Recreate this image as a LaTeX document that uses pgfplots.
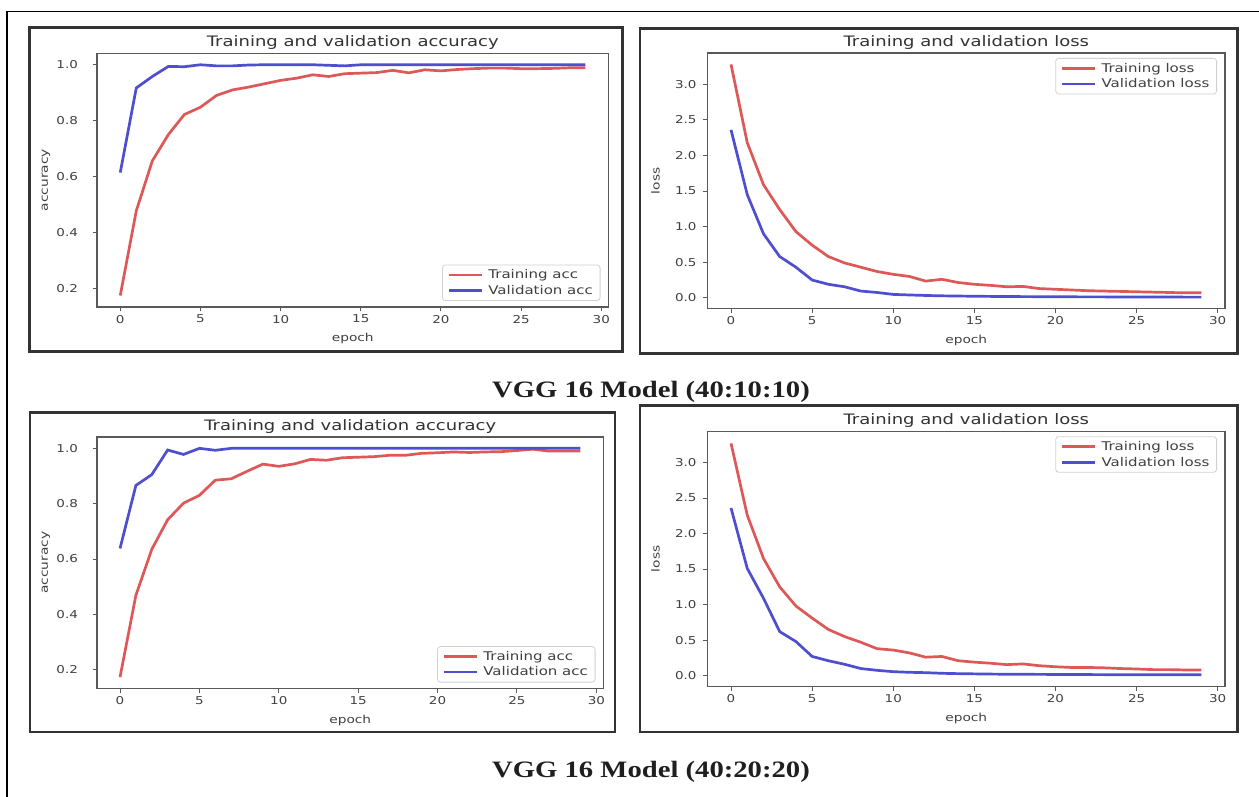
\documentclass[border=0pt]{standalone}
\usepackage{fontspec}
\usepackage{pgfplots}
\pgfplotsset{compat=1.18}
\newfontfamily\mpl[FakeStretch=1.25]{DejaVu Sans}
\newfontfamily\capfont[FakeStretch=1.22]{Liberation Serif}
\definecolor{trainred}{RGB}{222,88,88}
\definecolor{valblue}{RGB}{78,78,208}
\pgfplotsset{
  mplstyle/.style={
    scale only axis, anchor=south west,
    axis line style={black!65, line width=1.1pt},
    tick style={black!65, line width=1pt},
    major tick length=4.5pt, tick align=outside, tick pos=left,
    xmin=-1.45, xmax=30.45, xtick={0,5,10,15,20,25,30},
    /pgf/number format/assume math mode=true,
    tick label style={font=\mpl\fontsize{10.8}{12}\selectfont, text=black!75},
    yticklabel style={/pgf/number format/fixed, /pgf/number format/fixed zerofill, /pgf/number format/precision=1},
    label style={font=\mpl\fontsize{11}{13}\selectfont, text=black!75},
    xlabel style={at={(axis description cs:0.5,0)}, anchor=base, yshift=-35pt},
    title style={font=\mpl\fontsize{14.4}{16}\selectfont, text=black!80, at={(axis description cs:0.5,1)}, anchor=base, yshift=0.5pt},
    legend style={font=\mpl\fontsize{12}{14}\selectfont, text=black!75, draw=black!18, line width=0.8pt, rounded corners=3pt, fill=white, inner xsep=5pt, inner ysep=2.5pt, nodes={inner sep=2.2pt}, row sep=0.5pt, column sep=3pt},
    legend cell align=left,
    legend image code/.code={\draw[#1] (0pt,0pt) -- (33pt,0pt);},
    every axis plot/.append style={line width=2.7pt, no markers},
  },
  accstyle/.style={mplstyle, ytick={0.2,0.4,0.6,0.8,1.0}, xlabel={epoch}, ylabel={accuracy},
    yticklabel shift=11pt,
    title={Training and validation accuracy},
    ylabel style={at={([xshift=-51pt]axis description cs:0,0.5)}, anchor=center},
    legend style={at={(axis description cs:1,0)}, anchor=south east, xshift=-8pt, yshift=6pt}},
  lossstyle/.style={mplstyle, ytick={0,0.5,1.0,1.5,2.0,2.5,3.0}, xlabel={epoch}, ylabel={loss},
    yticklabel shift=3pt,
    ymin=-0.15, ymax=3.44,
    title={Training and validation loss},
    ylabel style={at={([xshift=-52pt]axis description cs:0,0.5)}, anchor=center},
    legend style={at={(axis description cs:1,1)}, anchor=north east, xshift=-8pt, yshift=-5pt}},
}
\pgfplotstableread{
e tr va
0 0.174 0.614
1 0.477 0.917
2 0.656 0.958
3 0.750 0.994
4 0.822 0.993
5 0.848 1.000
6 0.890 0.996
7 0.910 0.996
8 0.920 0.999
9 0.932 1.000
10 0.944 1.000
11 0.952 1.000
12 0.964 1.000
13 0.958 0.998
14 0.968 0.996
15 0.970 1.000
16 0.972 1.000
17 0.980 1.000
18 0.971 1.000
19 0.982 1.000
20 0.978 1.000
21 0.983 1.000
22 0.986 1.000
23 0.988 1.000
24 0.988 1.000
25 0.986 1.000
26 0.986 1.000
27 0.987 1.000
28 0.989 1.000
29 0.989 1.000
}\accA
\pgfplotstableread{
e tr va
0 3.28 2.36
1 2.18 1.45
2 1.59 0.90
3 1.24 0.58
4 0.93 0.43
5 0.74 0.25
6 0.58 0.19
7 0.49 0.155
8 0.43 0.095
9 0.37 0.075
10 0.33 0.048
11 0.30 0.040
12 0.235 0.033
13 0.26 0.028
14 0.215 0.025
15 0.19 0.022
16 0.175 0.020
17 0.155 0.018
18 0.16 0.017
19 0.13 0.016
20 0.12 0.015
21 0.11 0.014
22 0.10 0.013
23 0.095 0.013
24 0.09 0.012
25 0.085 0.012
26 0.08 0.011
27 0.075 0.011
28 0.07 0.010
29 0.07 0.010
}\lossA
\pgfplotstableread{
e tr va
0 0.173 0.638
1 0.469 0.866
2 0.635 0.905
3 0.742 0.994
4 0.802 0.978
5 0.830 1.000
6 0.885 0.993
7 0.890 1.000
8 0.917 1.000
9 0.943 1.000
10 0.935 1.000
11 0.944 1.000
12 0.960 1.000
13 0.957 1.000
14 0.966 1.000
15 0.968 1.000
16 0.970 1.000
17 0.975 1.000
18 0.975 1.000
19 0.982 1.000
20 0.984 1.000
21 0.987 1.000
22 0.985 1.000
23 0.987 1.000
24 0.988 1.000
25 0.992 1.000
26 0.997 1.000
27 0.990 1.000
28 0.990 1.000
29 0.990 1.000
}\accB
\pgfplotstableread{
e tr va
0 3.27 2.36
1 2.26 1.51
2 1.65 1.09
3 1.25 0.62
4 0.98 0.48
5 0.81 0.27
6 0.65 0.21
7 0.55 0.16
8 0.47 0.10
9 0.38 0.075
10 0.36 0.056
11 0.32 0.047
12 0.26 0.042
13 0.27 0.033
14 0.21 0.028
15 0.19 0.025
16 0.175 0.022
17 0.155 0.020
18 0.165 0.019
19 0.14 0.018
20 0.125 0.017
21 0.115 0.016
22 0.115 0.015
23 0.11 0.014
24 0.10 0.014
25 0.094 0.013
26 0.085 0.013
27 0.085 0.012
28 0.08 0.012
29 0.08 0.012
}\lossB
\begin{document}
\begin{tikzpicture}
\path[use as bounding box] (0pt,0pt) rectangle (1259pt,796pt);
\fill[white] (0pt,0pt) rectangle (1259pt,796pt);
% outer frame (top and left visible)
\draw[black, line width=1.8pt] (7pt,-2pt) -- (7pt,784.5pt) -- (1262pt,784.5pt);
% panel boxes
\draw[black!80, line width=2.6pt] (29.4pt,444.5pt) rectangle (622.5pt,768.3pt);
\draw[black!80, line width=2.6pt] (640pt,442.5pt) rectangle (1237.5pt,767.7pt);
\draw[black!80, line width=2.6pt] (30pt,64pt) rectangle (615pt,383.5pt);
\draw[black!80, line width=2.6pt] (640pt,64pt) rectangle (1237.5pt,390.5pt);
% captions
\node[anchor=base, font=\capfont\bfseries\fontsize{23.5}{28}\selectfont, text=black!88] at (651pt,398pt) {VGG 16 Model (40:10:10)};
\node[anchor=base, font=\capfont\bfseries\fontsize{23.5}{28}\selectfont, text=black!88] at (651pt,19pt) {VGG 16 Model (40:20:20)};

\begin{axis}[accstyle, at={(97pt,489pt)}, width=511.5pt, height=253.7pt, ymin=0.133, ymax=1.041]
\addplot[trainred] table[x=e, y=tr] {\accA};
\addlegendentry{Training acc}
\addplot[valblue] table[x=e, y=va] {\accA};
\addlegendentry{Validation acc}
\end{axis}

\begin{axis}[lossstyle, at={(707.5pt,487.5pt)}, width=517.5pt, height=255.5pt]
\addplot[trainred] table[x=e, y=tr] {\lossA};
\addlegendentry{Training loss}
\addplot[valblue] table[x=e, y=va] {\lossA};
\addlegendentry{Validation loss}
\end{axis}

\begin{axis}[accstyle, at={(97pt,107.5pt)}, width=506.5pt, height=251.5pt, ymin=0.132, ymax=1.041]
\addplot[trainred] table[x=e, y=tr] {\accB};
\addlegendentry{Training acc}
\addplot[valblue] table[x=e, y=va] {\accB};
\addlegendentry{Validation acc}
\end{axis}

\begin{axis}[lossstyle, at={(707.5pt,109.7pt)}, width=517.5pt, height=255pt]
\addplot[trainred] table[x=e, y=tr] {\lossB};
\addlegendentry{Training loss}
\addplot[valblue] table[x=e, y=va] {\lossB};
\addlegendentry{Validation loss}
\end{axis}
\end{tikzpicture}
\end{document}
